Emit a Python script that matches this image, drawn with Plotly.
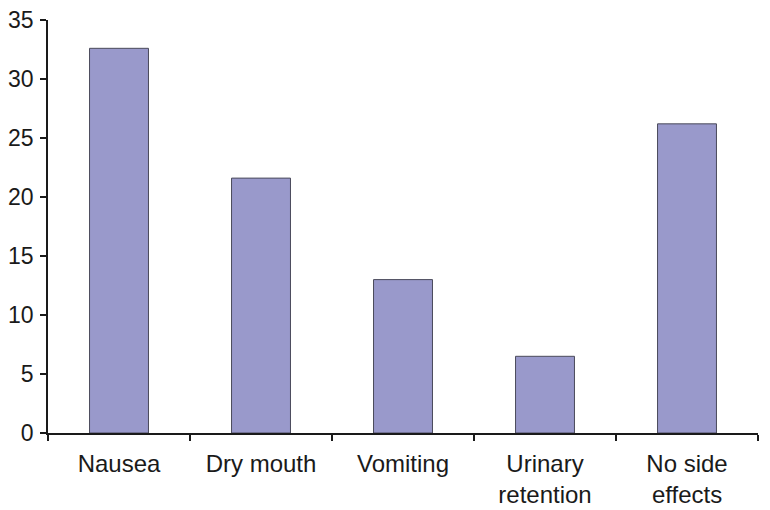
import plotly.graph_objects as go

categories = ["Nausea", "Dry mouth", "Vomiting", "Urinary<br>retention", "No side<br>effects"]
values = [32.6, 21.6, 13.0, 6.5, 26.2]
y_ticks = [0, 5, 10, 15, 20, 25, 30, 35]

fig = go.Figure(go.Bar(
    x=categories, y=values, width=0.415,
    marker=dict(color="#9999CB", line=dict(color="#4a4a5a", width=1)),
))

fig.update_layout(
    width=770, height=510,
    margin=dict(l=48, r=12, t=20, b=77),
    paper_bgcolor="white", plot_bgcolor="white",
    font=dict(family="Liberation Sans, Arial, sans-serif", size=24, color="#1a1a1a"),
    showlegend=False,
)
fig.update_xaxes(
    showline=True, linecolor="#1a1a1a", linewidth=1.5,
    ticks="outside", tickson="boundaries", ticklen=6, tickcolor="#1a1a1a", tickwidth=1.5,
    showgrid=False, tickfont=dict(size=24), ticklabelstandoff=8, automargin=False,
)
fig.update_yaxes(
    range=[0, 35], tickvals=y_ticks, showline=True, linecolor="#1a1a1a", linewidth=1.5,
    ticks="outside", ticklen=6, tickcolor="#1a1a1a", tickwidth=1.5,
    showgrid=False, zeroline=False, tickfont=dict(size=23), ticklabelstandoff=2, automargin=False,
)

fig.write_html("out.html", config={"displayModeBar": False},
               post_script="document.body.style.margin='0';")
